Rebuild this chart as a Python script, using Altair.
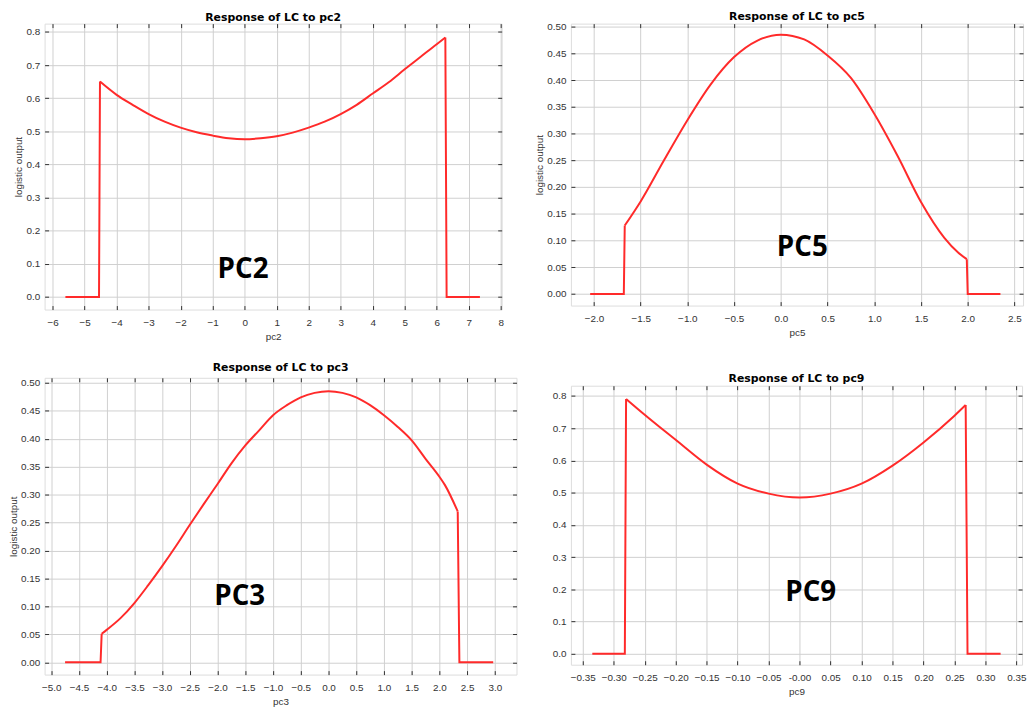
import altair as alt
import pandas as pd

RED = "#ff2a2a"

# ---------------- data ----------------
pc2_x = [-5.6, -4.55, -4.52, -4.0, -3.5, -3.0, -2.5, -2.0, -1.5, -1.0, -0.5, 0.0,
         0.5, 1.0, 1.5, 2.0, 2.5, 3.0, 3.5, 4.0, 4.5, 5.0, 5.5, 6.0, 6.27, 6.31, 7.35]
pc2_y = [0.0, 0.0, 0.650, 0.610, 0.580, 0.552, 0.529, 0.511, 0.497, 0.487, 0.479, 0.476,
         0.479, 0.485, 0.496, 0.511, 0.529, 0.552, 0.580, 0.614, 0.648, 0.687, 0.725, 0.763, 0.783, 0.0, 0.0]

pc5_x = [-2.04, -1.68, -1.67, -1.5, -1.25, -1.0, -0.75, -0.5, -0.25, 0.0, 0.25, 0.5,
         0.75, 1.0, 1.25, 1.5, 1.75, 1.9, 1.99, 2.0, 2.35]
pc5_y = [0.0, 0.0, 0.128, 0.173, 0.250, 0.325, 0.392, 0.443, 0.474, 0.485, 0.476, 0.446,
         0.404, 0.337, 0.258, 0.172, 0.105, 0.077, 0.065, 0.0, 0.0]

pc3_x = [-4.75, -4.11, -4.09, -4.0, -3.75, -3.5, -3.25, -3.0, -2.75, -2.5, -2.25, -2.0,
         -1.75, -1.5, -1.25, -1.0, -0.75, -0.5, -0.25, 0.0, 0.25, 0.5, 0.75, 1.0, 1.25,
         1.5, 1.75, 2.0, 2.1, 2.33, 2.36, 2.97]
pc3_y = [0.0, 0.0, 0.051, 0.058, 0.079, 0.106, 0.138, 0.172, 0.208, 0.246, 0.283, 0.319,
         0.356, 0.388, 0.415, 0.442, 0.460, 0.474, 0.482, 0.485, 0.482, 0.474, 0.460, 0.442, 0.421,
         0.397, 0.364, 0.332, 0.317, 0.270, 0.0, 0.0]

pc9_x = [-0.3345, -0.282, -0.280, -0.25, -0.2, -0.15, -0.1, -0.05, 0.0, 0.05, 0.1, 0.15,
         0.2, 0.25, 0.268, 0.271, 0.3244]
pc9_y = [0.0, 0.0, 0.791, 0.742, 0.664, 0.587, 0.528, 0.497, 0.485, 0.497, 0.528, 0.584,
         0.656, 0.739, 0.772, 0.0, 0.0]

pc2_xticks = [-6, -5, -4, -3, -2, -1, 0, 1, 2, 3, 4, 5, 6, 7, 8]
pc2_yticks = [0.0, 0.1, 0.2, 0.3, 0.4, 0.5, 0.6, 0.7, 0.8]
pc5_xticks = [-2.0, -1.5, -1.0, -0.5, 0.0, 0.5, 1.0, 1.5, 2.0, 2.5]
pc5_yticks = [0.0, 0.05, 0.10, 0.15, 0.20, 0.25, 0.30, 0.35, 0.40, 0.45, 0.50]
pc3_xticks = [-5.0, -4.5, -4.0, -3.5, -3.0, -2.5, -2.0, -1.5, -1.0, -0.5, 0.0, 0.5,
              1.0, 1.5, 2.0, 2.5, 3.0]
pc3_yticks = [0.0, 0.05, 0.10, 0.15, 0.20, 0.25, 0.30, 0.35, 0.40, 0.45, 0.50]
pc9_xticks = [-0.35, -0.30, -0.25, -0.20, -0.15, -0.10, -0.05, 0.0, 0.05, 0.10, 0.15,
              0.20, 0.25, 0.30, 0.35]
pc9_yticks = [0.0, 0.1, 0.2, 0.3, 0.4, 0.5, 0.6, 0.7, 0.8]

LABEL_FONT = "Liberation Sans"
TICK_COLOR = "#333333"
TEXT_COLOR = "#333333"


def panel(xs, ys, label, lx, ly, xdom, ydom, xticks, yticks, xfmt, yfmt,
          xtitle, title, w, h, toff, ytitle_opacity=1.0, xlabel_expr=None):
    n = len(xs)
    # edges: flat start + jump, jump + flat end (straight); curve in between (smooth)
    edge_df = pd.DataFrame({
        "x": xs[:3] + xs[-3:], "y": ys[:3] + ys[-3:],
        "seg": ["a"] * 3 + ["b"] * 3, "i": list(range(6)),
    })
    curve_df = pd.DataFrame({"x": xs[2:n - 2], "y": ys[2:n - 2],
                             "i": list(range(n - 4))})
    xsc = alt.Scale(domain=xdom, nice=False, zero=False)
    ysc = alt.Scale(domain=ydom, nice=False, zero=False)

    common = dict(labelFont=LABEL_FONT, labelFontSize=10, labelColor=TEXT_COLOR,
                  titleFont=LABEL_FONT, titleFontSize=10, titleFontWeight="normal",
                  titleColor=TEXT_COLOR, grid=True, gridColor="#cfcfcf", gridWidth=1,
                  ticks=False, domain=False, labelFlush=False)
    xaxis_kw = dict(values=xticks, format=xfmt, title=xtitle, orient="bottom",
                    labelPadding=8, titlePadding=4, **common)
    if xlabel_expr:
        xaxis_kw["labelExpr"] = xlabel_expr
    curve = alt.Chart(curve_df).mark_line(
        color=RED, strokeWidth=2, interpolate="monotone").encode(
        x=alt.X("x:Q", scale=xsc, axis=alt.Axis(**xaxis_kw)),
        y=alt.Y("y:Q", scale=ysc, axis=alt.Axis(
            values=yticks, format=yfmt, title="logistic output", orient="left",
            labelPadding=5, titlePadding=2, titleOpacity=ytitle_opacity, **common)),
        order="i:Q",
    )
    edges = alt.Chart(edge_df).mark_line(color=RED, strokeWidth=2).encode(
        x=alt.X("x:Q", scale=xsc, axis=None),
        y=alt.Y("y:Q", scale=ysc, axis=None),
        detail="seg:N",
        order="i:Q",
    )
    tick_kw = dict(labels=False, grid=False, domain=False, ticks=True,
                   tickSize=4, tickColor=TICK_COLOR, tickWidth=1, title=None, offset=-4)
    ticks_bl = alt.Chart(curve_df).mark_line(opacity=0).encode(
        x=alt.X("x:Q", scale=xsc, axis=alt.Axis(values=xticks, orient="bottom", **tick_kw)),
        y=alt.Y("y:Q", scale=ysc, axis=alt.Axis(values=yticks, orient="left", **tick_kw)),
        order="i:Q",
    )
    ticks_tr = alt.Chart(curve_df).mark_line(opacity=0).encode(
        x=alt.X("x:Q", scale=xsc, axis=alt.Axis(values=xticks, orient="top", **tick_kw)),
        y=alt.Y("y:Q", scale=ysc, axis=alt.Axis(values=yticks, orient="right", **tick_kw)),
        order="i:Q",
    )
    lab_df = pd.DataFrame({"t": [label], "x": [lx], "y": [ly]})
    text = alt.Chart(lab_df).mark_text(
        font="Open Sans", fontWeight="bold", fontSize=28, color="black",
        align="center", baseline="middle",
    ).encode(
        x=alt.X("x:Q", scale=xsc, axis=None),
        y=alt.Y("y:Q", scale=ysc, axis=None),
        text="t:N",
    )
    return alt.layer(curve, edges, ticks_bl, ticks_tr, text).resolve_axis(
        x="independent", y="independent"
    ).properties(
        width=w, height=h,
        title=alt.TitleParams(title, font="DejaVu Sans", fontSize=11,
                              fontWeight="bold", color="black", offset=toff),
    )


p1 = panel(pc2_x, pc2_y, "PC2", -0.05, 0.08, [-6.25, 8.03], [-0.038, 0.825],
           pc2_xticks, pc2_yticks, "d", ".1f", "pc2", "Response of LC to pc2",
           462, 289, 0)
p2 = panel(pc5_x, pc5_y, "PC5", 0.23, 0.086, [-2.246, 2.592], [-0.0218, 0.5056],
           pc5_xticks, pc5_yticks, ".1f", ".2f", "pc5", "Response of LC to pc5",
           457, 285, 0)
p3 = panel(pc3_x, pc3_y, "PC3", -1.6, 0.117, [-5.119, 3.39], [-0.022, 0.509],
           pc3_xticks, pc3_yticks, ".1f", ".2f", "pc3", "Response of LC to pc3",
           477, 300, 4)
p4 = panel(pc9_x, pc9_y, "PC9", 0.018, 0.188, [-0.369, 0.359], [-0.034, 0.832],
           pc9_xticks, pc9_yticks, ".2f", ".1f", "pc9", "Response of LC to pc9",
           456, 282, 1, ytitle_opacity=0.0,
           xlabel_expr="datum.value == 0 ? '-0.00' : format(datum.value, '.2f')")

left = alt.vconcat(p1, p3, spacing=20)
right = alt.vconcat(p2, p4, spacing=35)
chart = alt.hconcat(left, right, spacing=17).properties(
    padding={"left": 0, "top": -2, "right": 0, "bottom": 0}
).configure_view(
    stroke="#444444", strokeWidth=1.5
).configure(background="white")

chart.save("out.html", embed_options={"renderer": "svg", "actions": False})
